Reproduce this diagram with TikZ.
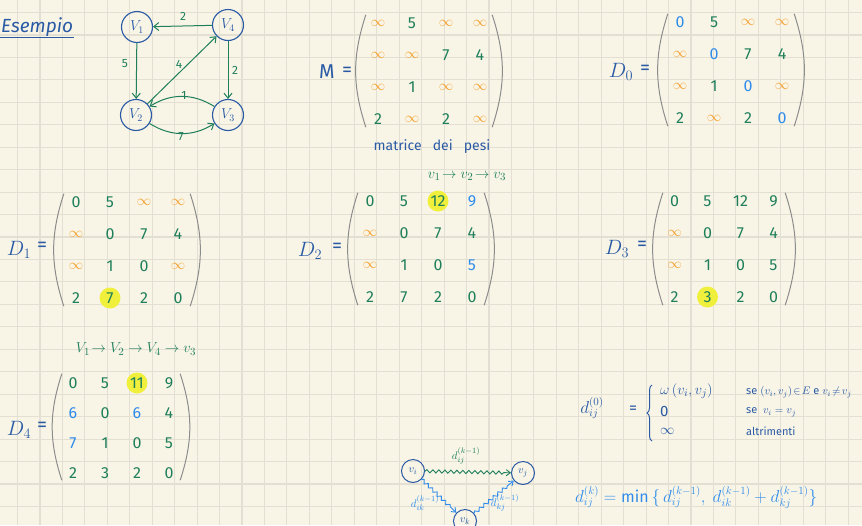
\documentclass[tikz,border=0pt]{standalone}
\usepackage{fontspec}
\setmainfont{Fira Sans}
\usetikzlibrary{matrix,arrows.meta,decorations.pathmorphing,decorations.pathreplacing}
\definecolor{paper}{HTML}{F8F5E7}
\definecolor{gridc}{HTML}{E3E0D3}
\definecolor{ink}{HTML}{2A5AA4}
\definecolor{grn}{HTML}{1F7F5A}
\definecolor{org}{HTML}{F5A030}
\definecolor{lblue}{HTML}{2F8CEB}
\definecolor{hly}{HTML}{F0F03C}
\definecolor{parc}{HTML}{8C8C8C}
\newcommand\myinf{\textcolor{org}{\fontsize{14}{14}\selectfont$\infty$}}
\newcommand\blu[1]{\textcolor{lblue}{#1}}
\begin{document}
\begin{tikzpicture}[x=1pt,y=-1pt,
  gridline/.style={gridc, line width=1.1},
  vert/.style={circle, draw=ink, line width=1.1, minimum size=31, inner sep=0, text=ink, font=\fontsize{14}{14}\selectfont},
  smallvert/.style={circle, draw=ink, line width=1, minimum size=23, inner sep=0, text=ink, font=\fontsize{11}{11}\selectfont},
  ge/.style={grn, line width=1, -{Straight Barb[length=5pt,width=8pt]}},
  elab/.style={text=grn, font=\fontsize{12}{12}\selectfont, inner sep=1},
  lab/.style={text=ink, font=\fontsize{20}{20}\selectfont, inner sep=1},
  mat/.style={matrix of nodes, inner sep=0, column sep=0, row sep=0,
    nodes={minimum width=34, minimum height=32, inner sep=0, anchor=center, text=grn, font=\fontsize{16}{16}\selectfont}},
  hl/.style={circle, fill=hly, minimum size=21},
  paren/.style={parc, line width=1},
  path/.style={text=grn, font=\fontsize{15}{15}\selectfont, inner sep=1},
  wavy/.style={line width=0.9, decorate, decoration={snake, amplitude=1.6pt, segment length=6pt, post length=6pt}, -{Straight Barb[length=4pt,width=6pt]}},
  formula/.style={text=ink, font=\fontsize{16}{16}\selectfont, inner sep=1},
  casecell/.style={text=ink, font=\fontsize{15}{15}\selectfont, inner sep=0, anchor=west},
  small/.style={text=ink, font=\fontsize{11}{11}\selectfont, inner sep=1}
]
\useasboundingbox (0,0) rectangle (862,525);
\fill[paper] (0,0) rectangle (862,525);
\foreach \i in {0,...,38} \draw[gridline] ({17.5+22.45*\i},0) -- ++(0,525);
\foreach \j in {0,...,23} \draw[gridline] (0,{12.5+22.45*\j}) -- ++(862,0);

% title
\node[text=ink, font=\fontsize{19}{19}\selectfont\itshape, inner sep=1, anchor=west] (title) at (0,27) {Esempio};
\draw[ink, line width=1.1] (title.south west) -- (title.south east);

% graph
\node[vert] (v1) at (137,27) {$V_1$};
\node[vert] (v4) at (228,25) {$V_4$};
\node[vert] (v2) at (136,115) {$V_2$};
\node[vert] (v3) at (228,115) {$V_3$};
\draw[ge] (v4) -- (v1);
\draw[ge] (v1) -- (v2);
\draw[ge] (v2) -- (v4);
\draw[ge] (v4) -- (v3);
\draw[ge] (v3) to[bend right=32] (v2);
\draw[ge] (v2) to[bend right=32] (v3);
\node[elab] (w41) at (183,16) {2};
\node[elab] (w12) at (125,64) {5};
\node[elab] (w24) at (179,64) {4};
\node[elab] (w43) at (235,70) {2};
\node[elab] (w32) at (184,95) {1};
\node[elab] (w23) at (181,137) {7};

% M
\node[lab] (Ml) at (327,72) {M};
\node[lab] (Me) at (347,72) {=};
\matrix[mat] (M) at (429,71) {
\myinf & 5 & \myinf & \myinf \\
\myinf & \myinf & 7 & 4 \\
\myinf & 1 & \myinf & \myinf \\
2 & \myinf & 2 & \myinf \\
};
\draw[paren] ([shift={(5,8)}]M.north west) to[bend right=18] ([shift={(5,-8)}]M.south west);
\draw[paren] ([shift={(-5,8)}]M.north east) to[bend left=18] ([shift={(-5,-8)}]M.south east);
\node[text=ink, font=\fontsize{14}{14}\selectfont, inner sep=1] (mp) at (432,147) {matrice \ \ dei \ \ pesi};

% D0
\node[lab] (D0l) at (621,72) {$D_0$};
\node[lab] (D0e) at (645,70) {=};
\matrix[mat] (D0) at (731,70) {
\blu{0} & 5 & \myinf & \myinf \\
\myinf & \blu{0} & 7 & 4 \\
\myinf & 1 & \blu{0} & \myinf \\
2 & \myinf & 2 & \blu{0} \\
};
\draw[paren] ([shift={(5,8)}]D0.north west) to[bend right=18] ([shift={(5,-8)}]D0.south west);
\draw[paren] ([shift={(-5,8)}]D0.north east) to[bend left=18] ([shift={(-5,-8)}]D0.south east);

% D1
\node[lab] (D1l) at (19,250) {$D_1$};
\node[lab] (D1e) at (42,247) {=};
\matrix[mat] (D1) at (127,250) {
0 & 5 & \myinf & \myinf \\
\myinf & 0 & 7 & 4 \\
\myinf & 1 & 0 & \myinf \\
2 & |[hl]| 7 & 2 & 0 \\
};
\draw[paren] ([shift={(5,8)}]D1.north west) to[bend right=18] ([shift={(5,-8)}]D1.south west);
\draw[paren] ([shift={(-5,8)}]D1.north east) to[bend left=18] ([shift={(-5,-8)}]D1.south east);

% D2
\node[path] (p2) at (467,176) {$v_1\!\to v_2\!\to v_3$};
\node[lab] (D2l) at (310,251) {$D_2$};
\node[lab] (D2e) at (337,248) {=};
\matrix[mat] (D2) at (421,249) {
0 & 5 & |[hl]| 12 & \blu{9} \\
\myinf & 0 & 7 & 4 \\
\myinf & 1 & 0 & \blu{5} \\
2 & 7 & 2 & 0 \\
};
\draw[paren] ([shift={(5,8)}]D2.north west) to[bend right=18] ([shift={(5,-8)}]D2.south west);
\draw[paren] ([shift={(-5,8)}]D2.north east) to[bend left=18] ([shift={(-5,-8)}]D2.south east);

% D3
\node[lab] (D3l) at (617,249) {$D_3$};
\node[lab] (D3e) at (642,246) {=};
\matrix[mat, nodes={minimum width=33}] (D3) at (724,249) {
0 & 5 & 12 & 9 \\
\myinf & 0 & 7 & 4 \\
\myinf & 1 & 0 & 5 \\
2 & |[hl]| 3 & 2 & 0 \\
};
\draw[paren] ([shift={(5,8)}]D3.north west) to[bend right=18] ([shift={(5,-8)}]D3.south west);
\draw[paren] ([shift={(-5,8)}]D3.north east) to[bend left=18] ([shift={(-5,-8)}]D3.south east);

% D4
\node[path] (p4) at (136,349) {$V_1\!\to V_2\to V_4\to v_3$};
\node[lab] (D4l) at (19,430) {$D_4$};
\node[lab] (D4e) at (42,427) {=};
\matrix[mat, nodes={minimum width=32, minimum height=30}] (D4) at (121,428) {
0 & 5 & |[hl]| 11 & 9 \\
\blu{6} & 0 & \blu{6} & 4 \\
\blu{7} & 1 & 0 & 5 \\
2 & 3 & 2 & 0 \\
};
\draw[paren] ([shift={(5,6)}]D4.north west) to[bend right=18] ([shift={(5,-8)}]D4.south west);
\draw[paren] ([shift={(-5,6)}]D4.north east) to[bend left=18] ([shift={(-5,-8)}]D4.south east);

% definition d^(0)
\node[formula] (dz) at (592,408) {$d_{ij}^{(0)}$};
\node[formula] (dze) at (633,410) {=};
\coordinate (brb) at (652,441);
\coordinate (brt) at (652,385);
\draw[ink, line width=1, decorate, decoration={brace, amplitude=5pt}] (brb) -- (brt);
\node[casecell] (c1) at (660,391) {$\omega\,(v_i, v_j)$};
\node[casecell] (c2) at (660,411) {0};
\node[casecell] (c3) at (660,431) {$\infty$};
\node[small, anchor=west] (s1) at (745,392) {se $(v_i,v_j)\!\in\! E$ e $v_i\!\neq\! v_j$};
\node[small, anchor=west] (s2) at (745,412) {se \ $v_i = v_j$};
\node[small, anchor=west] (s3) at (745,431) {altrimenti};

% recurrence
\node[formula, anchor=west, text=lblue] (rec) at (574,497) {$d_{ij}^{(k)} = \mathrm{min}\,\bigl\{\, d_{ij}^{(k-1)},\ d_{ik}^{(k-1)} + d_{kj}^{(k-1)}\bigr\}$};

% small diagram
\node[smallvert] (vi) at (413,471) {$v_i$};
\node[smallvert] (vj) at (523,473) {$v_j$};
\node[smallvert] (vk) at (465,521) {$v_k$};
\draw[wavy, grn] (vi) -- (vj);
\draw[wavy, lblue] (vi) -- (vk);
\draw[wavy, lblue] (vk) -- (vj);
\node[small, text=grn] (lij) at (466,456) {$d_{ij}^{(k-1)}$};
\node[small, text=lblue] (lik) at (425,503) {$d_{ik}^{(k-1)}$};
\node[small, text=lblue] (lkj) at (505,503) {$d_{kj}^{(k-1)}$};
\end{tikzpicture}
\end{document}
